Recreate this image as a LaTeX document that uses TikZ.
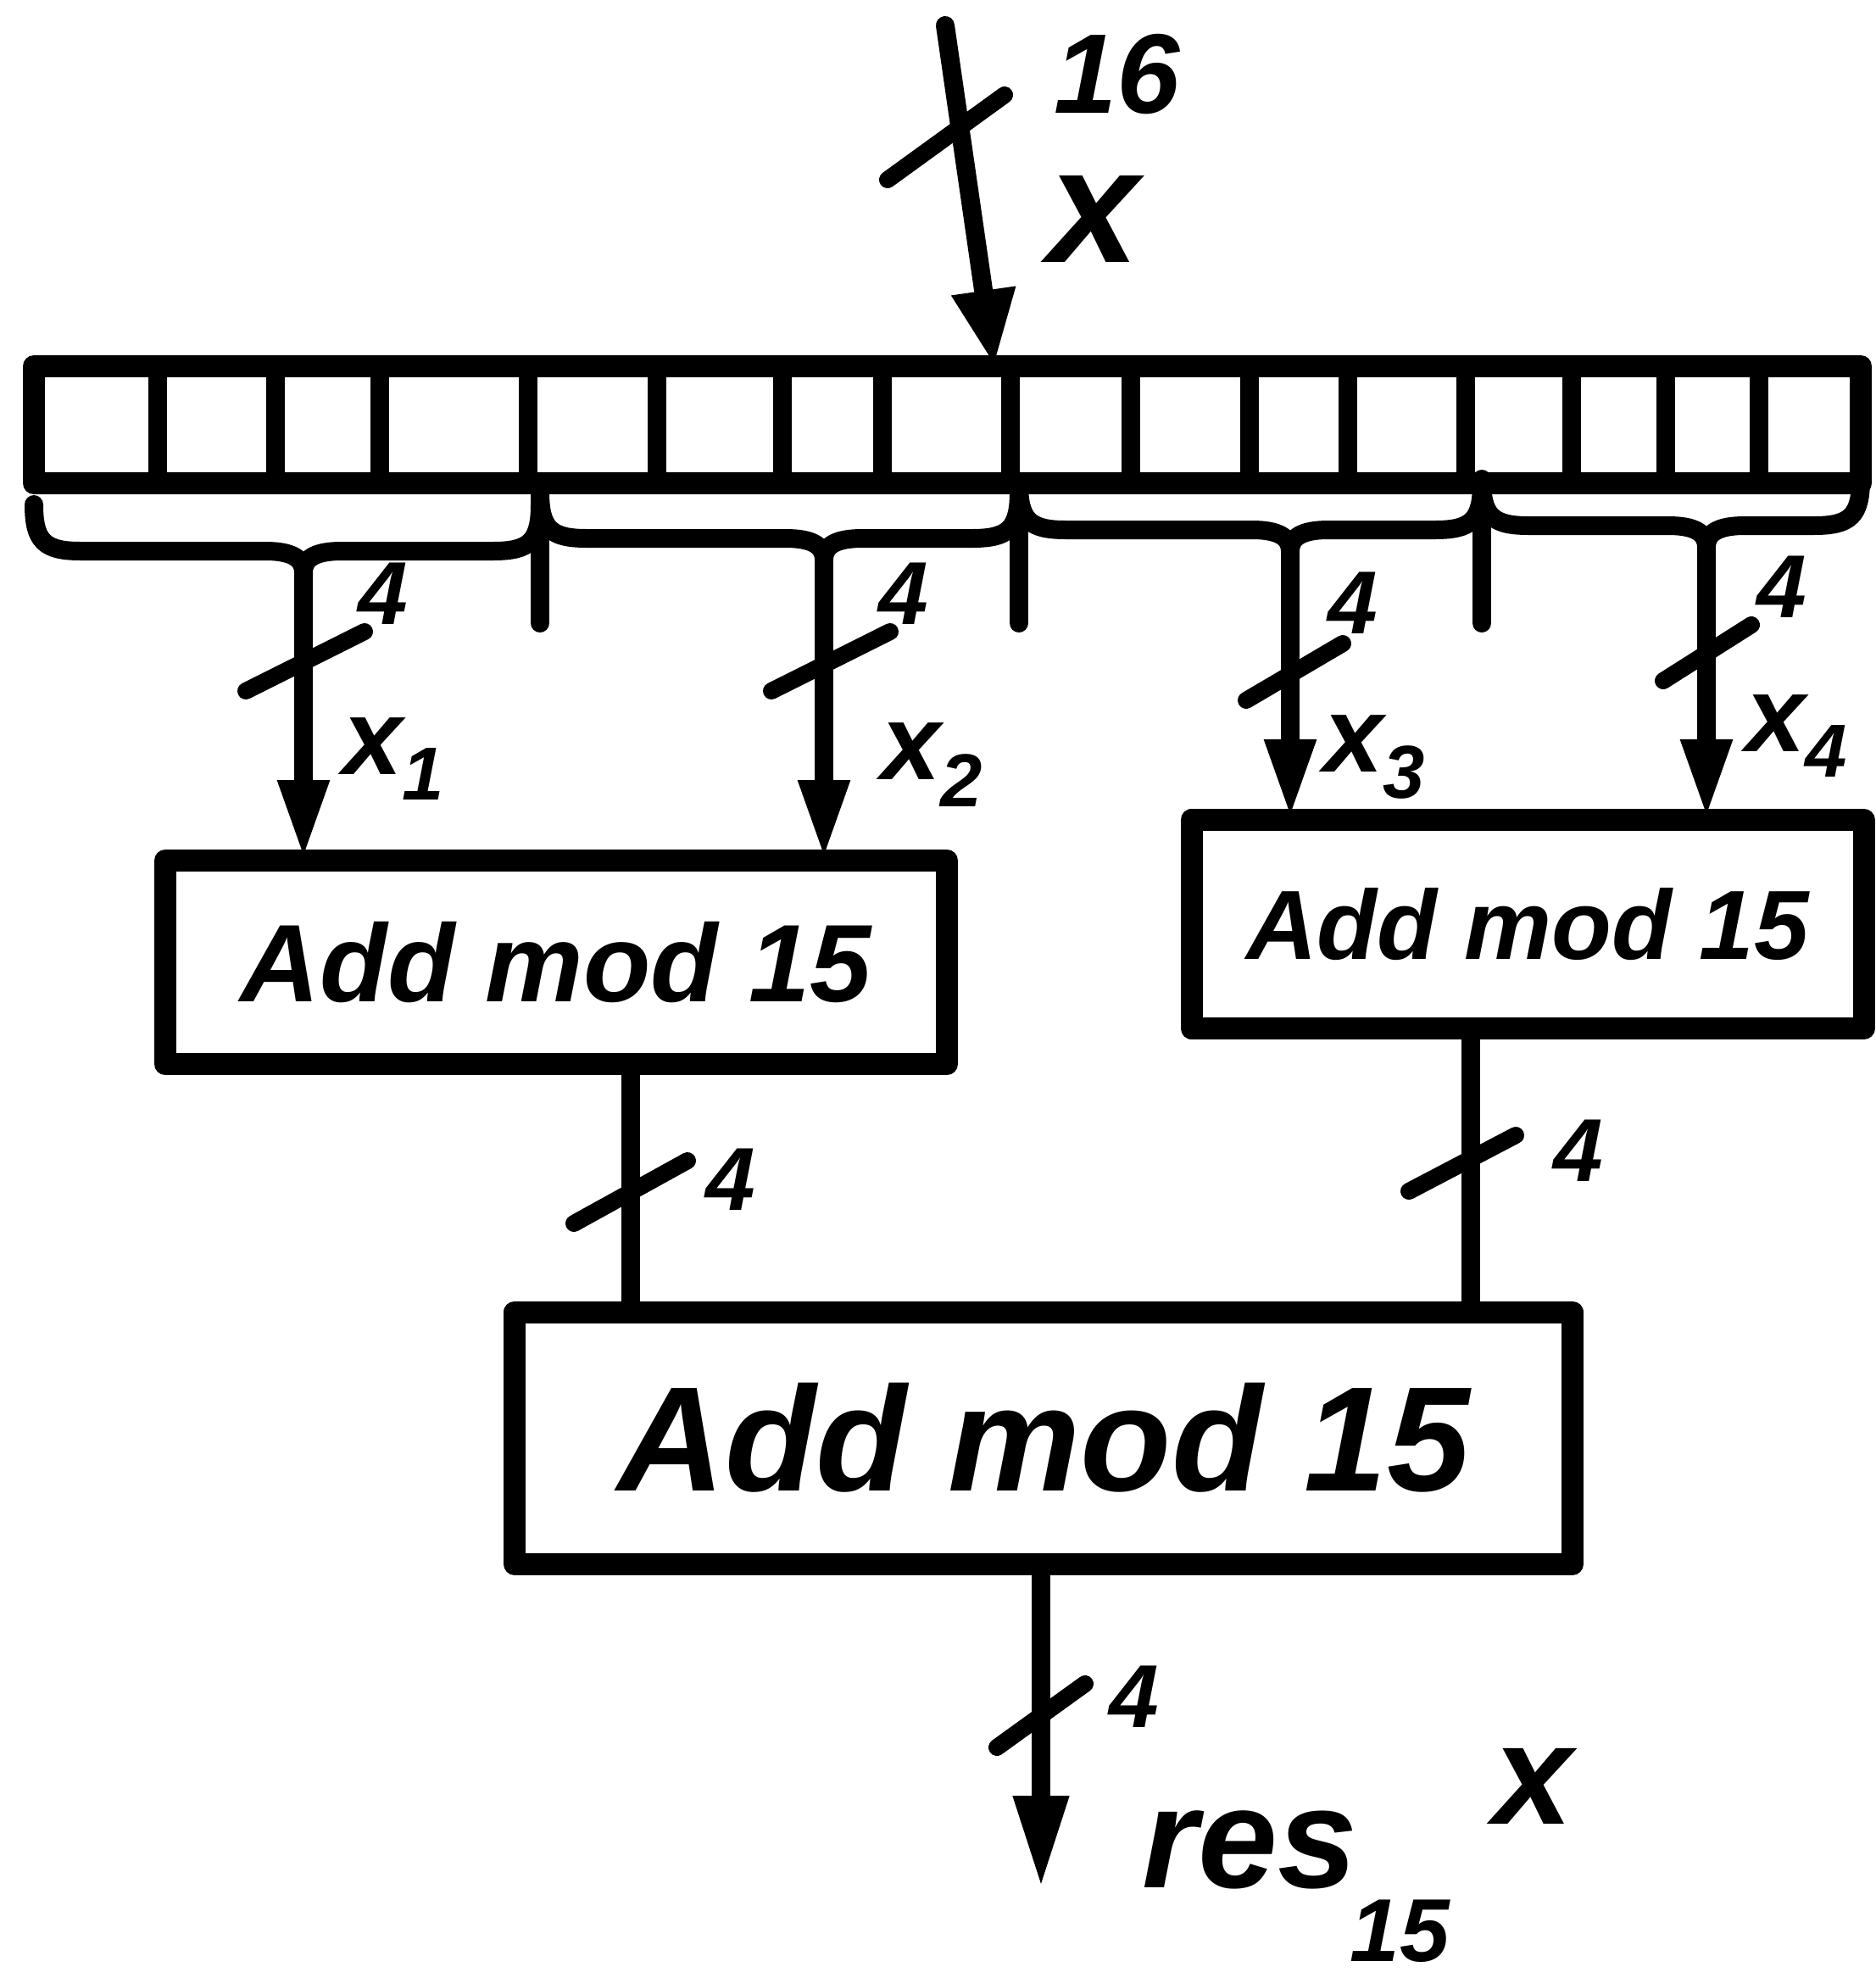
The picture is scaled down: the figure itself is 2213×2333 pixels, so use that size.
\documentclass[tikz,border=0pt]{standalone}
\usepackage{fontspec}
\setmainfont{Liberation Sans}
\usetikzlibrary{arrows.meta,calc}
\newcommand\mybrace[5]{%
  \draw[wire] (#1,#4-55) .. controls (#1,#4-12) and (#1+12,#4) .. (#1+55,#4)
    -- (#3-45,#4) .. controls (#3-15,#4) and (#3,#4+8) .. (#3,#4+25)
    .. controls (#3,#4+8) and (#3+15,#4) .. (#3+45,#4)
    -- (#2-55,#4) .. controls (#2-12,#4) and (#2,#4-12) .. (#2,#4-55);
  \coordinate (#5) at (#3,#4+25);}
\begin{document}
\begin{tikzpicture}[x=0.1mm,y=-0.1mm,
  thickline/.style={line width=2.6mm,line join=round},
  wire/.style={line width=2.2mm,line cap=round,line join=round},
  arr/.style={wire,-{Triangle[length=9.5mm,width=5.5mm]}},
  addbox/.style={draw,thickline,rectangle,inner sep=0pt,outer sep=0pt,font=\bfseries\itshape},
  slashmark/.style={line width=2mm,line cap=round},
  bwlab/.style={font=\fontsize{30}{32}\selectfont\bfseries\itshape,inner sep=0pt},
  sig/.style={font=\fontsize{36}{38}\selectfont\bfseries\itshape,inner sep=0pt}]
\useasboundingbox (0,0) rectangle (2213,2333);

% register of 16 cells
\node[draw,thickline,rectangle,inner sep=0pt,outer sep=0pt,
      minimum width=215.5mm,minimum height=13.8mm] (reg) at (1117.5,501) {};
\foreach \dx in {186,325,448,623,775,923,1041,1192,1334,1474,1590,1729,1854,1965,2075}
  \draw[wire,line cap=butt] (\dx,0 |- reg.north) -- (\dx,0 |- reg.south);

% input
\coordinate (inTop) at (1115,30);
\draw[wire,-{Triangle[length=9mm,width=7mm]}] (inTop) -- (1173,0 |- reg.north);
\draw[slashmark] (1047,212) -- (1185,112);
\node[font=\fontsize{38}{40}\selectfont\bfseries\itshape,inner sep=0pt] (w16) at (1318,88) {16};
\node[font=\fontsize{55}{57}\selectfont\bfseries\itshape,inner sep=0pt] (xin) at (1290,258) {x};

% braces grouping the bits
\mybrace{40}{637}{358}{650}{b1}
\mybrace{637}{1202}{972}{635}{b2}
\mybrace{1202}{1748}{1522}{625}{b3}
\mybrace{1748}{2195}{2013}{620}{b4}
\foreach \dx in {637,1202,1748}
  \draw[wire] (\dx,0 |- reg.south) -- (\dx,735);

% adders
\node[addbox,minimum width=92.2mm,minimum height=24mm,font=\fontsize{37}{40}\selectfont\bfseries\itshape]
  (add1) at (656,1135) {Add mod 15};
\node[addbox,minimum width=79.3mm,minimum height=24.6mm,font=\fontsize{33}{36}\selectfont\bfseries\itshape]
  (add2) at (1802,1090) {Add mod 15};
\node[addbox,minimum width=124.8mm,minimum height=29.7mm,font=\fontsize{50}{54}\selectfont\bfseries\itshape]
  (add3) at (1231,1696) {Add mod 15};

% inputs of the first adders
\draw[arr] (b1) -- (b1 |- add1.north);
\draw[arr] (b2) -- (b2 |- add1.north);
\draw[arr] (b3) -- (b3 |- add2.north);
\draw[arr] (b4) -- (b4 |- add2.north);
\draw[slashmark] (290,815) -- (430,745);
\draw[slashmark] (910,815) -- (1050,745);
\draw[slashmark] (1470,826) -- (1584,759);
\draw[slashmark] (1962,803) -- (2066,737);
\node[bwlab] (n1) at (452,700) {4};
\node[bwlab] (n2) at (1066,700) {4};
\node[bwlab] (n3) at (1596,711) {4};
\node[bwlab] (n4) at (2102,692) {4};
\node[sig] (lx1) at (465,895) {x\textsubscript{1}};
\node[sig] (lx2) at (1100,902) {x\textsubscript{2}};
\node[sig] (lx3) at (1622,893) {x\textsubscript{3}};
\node[sig] (lx4) at (2120,868) {x\textsubscript{4}};

% second stage
\draw[wire] (744,0 |- add1.south) -- (744,0 |- add3.north);
\draw[wire] (1735,0 |- add2.south) -- (1735,0 |- add3.north);
\draw[slashmark] (677,1443) -- (811,1369);
\draw[slashmark] (1662,1405) -- (1788,1339);
\node[bwlab] (n5) at (862,1391) {4};
\node[bwlab] (n6) at (1862,1357) {4};

% output
\coordinate (outEnd) at (1228,2228);
\draw[wire,-{Triangle[length=11mm,width=6mm]}] (1228,0 |- add3.south) -- (outEnd);
\draw[slashmark] (1176,2061) -- (1280,1986);
\node[bwlab] (n7) at (1338,2001) {4};
\node[anchor=base west,inner sep=0pt,font=\fontsize{48}{50}\selectfont\bfseries\itshape] (res) at (1347,2226)
  {res\rlap{\hspace{-0.05em}\raisebox{-0.52em}{\fontsize{30}{30}\selectfont 15}}\hspace{0.95em}\raisebox{0.44em}{x}};
\end{tikzpicture}
\end{document}
